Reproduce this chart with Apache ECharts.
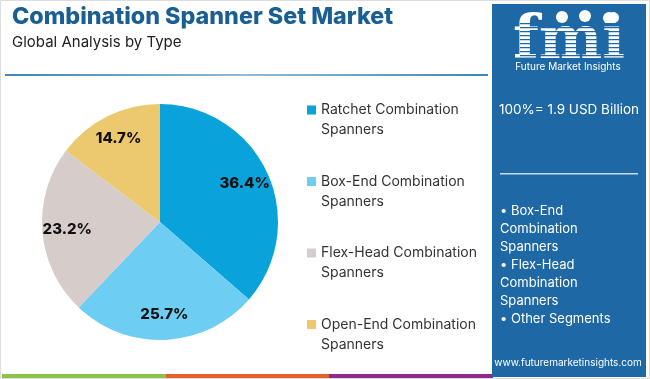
<!DOCTYPE html>
<html>
<head>
<meta charset="utf-8">
<script src="https://cdn.jsdelivr.net/npm/echarts@6/dist/echarts.min.js"></script>
<style>
html,body{margin:0;padding:0;background:#fff;}
#c{width:650px;height:379px;}
</style>
</head>
<body>
<div id="c"></div>
<script>
// ---- data ----
var categories = ['Ratchet Combination Spanners', 'Box-End Combination Spanners', 'Flex-Head Combination Spanners', 'Open-End Combination Spanners'];
var legendLabels = ['Ratchet Combination\nSpanners', 'Box-End Combination\nSpanners', 'Flex-Head Combination\nSpanners', 'Open-End Combination\nSpanners'];
var values = [36.4, 25.7, 23.2, 14.7];
var titleText = 'Combination Spanner Set Market';
var subtitleText = 'Global Analysis by Type';
var totalText = '100%= 1.9 USD Billion';
var bulletLines = ['• Box-End', 'Combination', 'Spanners', '• Flex-Head', 'Combination', 'Spanners', '• Other Segments'];

var colors = ['#0aa2da', '#6ecdf2', '#d6ccc9', '#ecc86f'];
var panelColor = '#1e68a6';

var chart = echarts.init(document.getElementById('c'), null, {renderer: 'canvas'});

var pieData = categories.map(function (c, i) {
  return {name: c, value: values[i], itemStyle: {color: colors[i]}};
});
var labelData = categories.map(function (c, i) {
  return {name: c, value: values[i]};
});

var graphics = [
  {type: 'rect', shape: {x: 0.5, y: 0.5, width: 649, height: 378}, style: {fill: 'none', stroke: '#dddddd', lineWidth: 1}, silent: true, z: 0},
  {type: 'text', left: 12, top: 5, style: {text: titleText, font: '800 23.3px Inter, "Open Sans", sans-serif', fill: '#1a5f94'}},
  {type: 'text', left: 12, top: 35, style: {text: subtitleText, font: '15px Inter, "Open Sans", sans-serif', fill: '#222'}},
  {type: 'rect', shape: {x: 5, y: 74, width: 483, height: 2}, style: {fill: new echarts.graphic.LinearGradient(0, 0, 1, 0, [{offset: 0, color: '#3f86b4'}, {offset: 0.5, color: '#8fbcd6'}, {offset: 1, color: '#3f86b4'}])}, silent: true},
  // bottom bars
  {type: 'rect', shape: {x: 2, y: 374, width: 164, height: 4}, style: {fill: '#8bc34a'}, silent: true},
  {type: 'rect', shape: {x: 166, y: 374, width: 163, height: 4}, style: {fill: '#e4612c'}, silent: true},
  {type: 'rect', shape: {x: 329, y: 374, width: 164, height: 4}, style: {fill: '#8e2c8e'}, silent: true},
  // right panel
  {type: 'rect', shape: {x: 492, y: 4, width: 154, height: 373}, style: {fill: panelColor}, silent: true, z: 1},
  {type: 'text', x: 569, y: 42, style: {text: 'fmi', font: 'bold 60px "DejaVu Serif", serif', fill: '#ffffff', align: 'center', verticalAlign: 'middle'}, z: 2},
  {type: 'circle', shape: {cx: 562, cy: 17, r: 6}, style: {fill: '#ffffff'}, z: 2},
  {type: 'circle', shape: {cx: 585, cy: 16, r: 6}, style: {fill: '#ffffff'}, z: 2},
  {type: 'circle', shape: {cx: 609, cy: 18, r: 6}, style: {fill: '#ffffff'}, z: 2},
  {type: 'text', x: 568, y: 67, style: {text: 'Future Market Insights', font: '10px Inter, "Open Sans", sans-serif', fill: '#ffffff', align: 'center', verticalAlign: 'middle'}, z: 2},
  {type: 'text', x: 569, y: 110, style: {text: totalText, font: '13.5px Inter, "Open Sans", sans-serif', fill: '#ffffff', align: 'center', verticalAlign: 'middle'}, z: 2},
  {type: 'rect', shape: {x: 500, y: 173, width: 138, height: 1.5}, style: {fill: '#c9dbea'}, silent: true, z: 2},
  {type: 'text', x: 500, y: 202, style: {text: bulletLines.join('\n'), font: '13px Inter, "Open Sans", sans-serif', lineHeight: 18, fill: '#ffffff', align: 'left', verticalAlign: 'top'}, z: 2},
  {type: 'text', x: 568, y: 363, style: {text: 'www.futuremarketinsights.com', font: '10px Inter, "Open Sans", sans-serif', fill: '#ffffff', align: 'center', verticalAlign: 'middle'}, z: 2}
];
// stripes over logo
for (var sy = 23; sy < 62; sy += 4) {
  graphics.push({type: 'rect', shape: {x: 520, y: sy, width: 110, height: 1.2}, style: {fill: panelColor}, silent: true, z: 3});
}

chart.setOption({
  animation: false,
  backgroundColor: '#ffffff',
  graphic: graphics,
  legend: {
    orient: 'vertical',
    left: 302,
    top: 75,
    itemWidth: 9,
    itemHeight: 9,
    itemGap: 11.5,
    icon: 'rect',
    data: categories,
    formatter: function (name) { return '\n' + legendLabels[categories.indexOf(name)]; },
    textStyle: {fontFamily: 'Inter, "Open Sans", sans-serif', fontSize: 14, color: '#333', lineHeight: 20},
    selectedMode: false
  },
  series: [
    {
      type: 'pie',
      center: [160, 222],
      radius: [0, 118],
      startAngle: 90,
      clockwise: true,
      label: {show: false},
      labelLine: {show: false},
      data: pieData,
      silent: true
    },
    {
      type: 'pie',
      center: [160, 222],
      radius: [62, 118],
      startAngle: 90,
      clockwise: true,
      itemStyle: {color: 'rgba(0,0,0,0)'},
      label: {show: true, position: 'inside', formatter: function (p) { return p.value.toFixed(1) + '%'; }, fontFamily: 'Inter, "Open Sans", sans-serif', fontSize: 15, fontWeight: 800, color: '#111'},
      labelLine: {show: false},
      data: labelData,
      silent: true,
      legendHoverLink: false
    }
  ]
});
</script>
</body>
</html>
